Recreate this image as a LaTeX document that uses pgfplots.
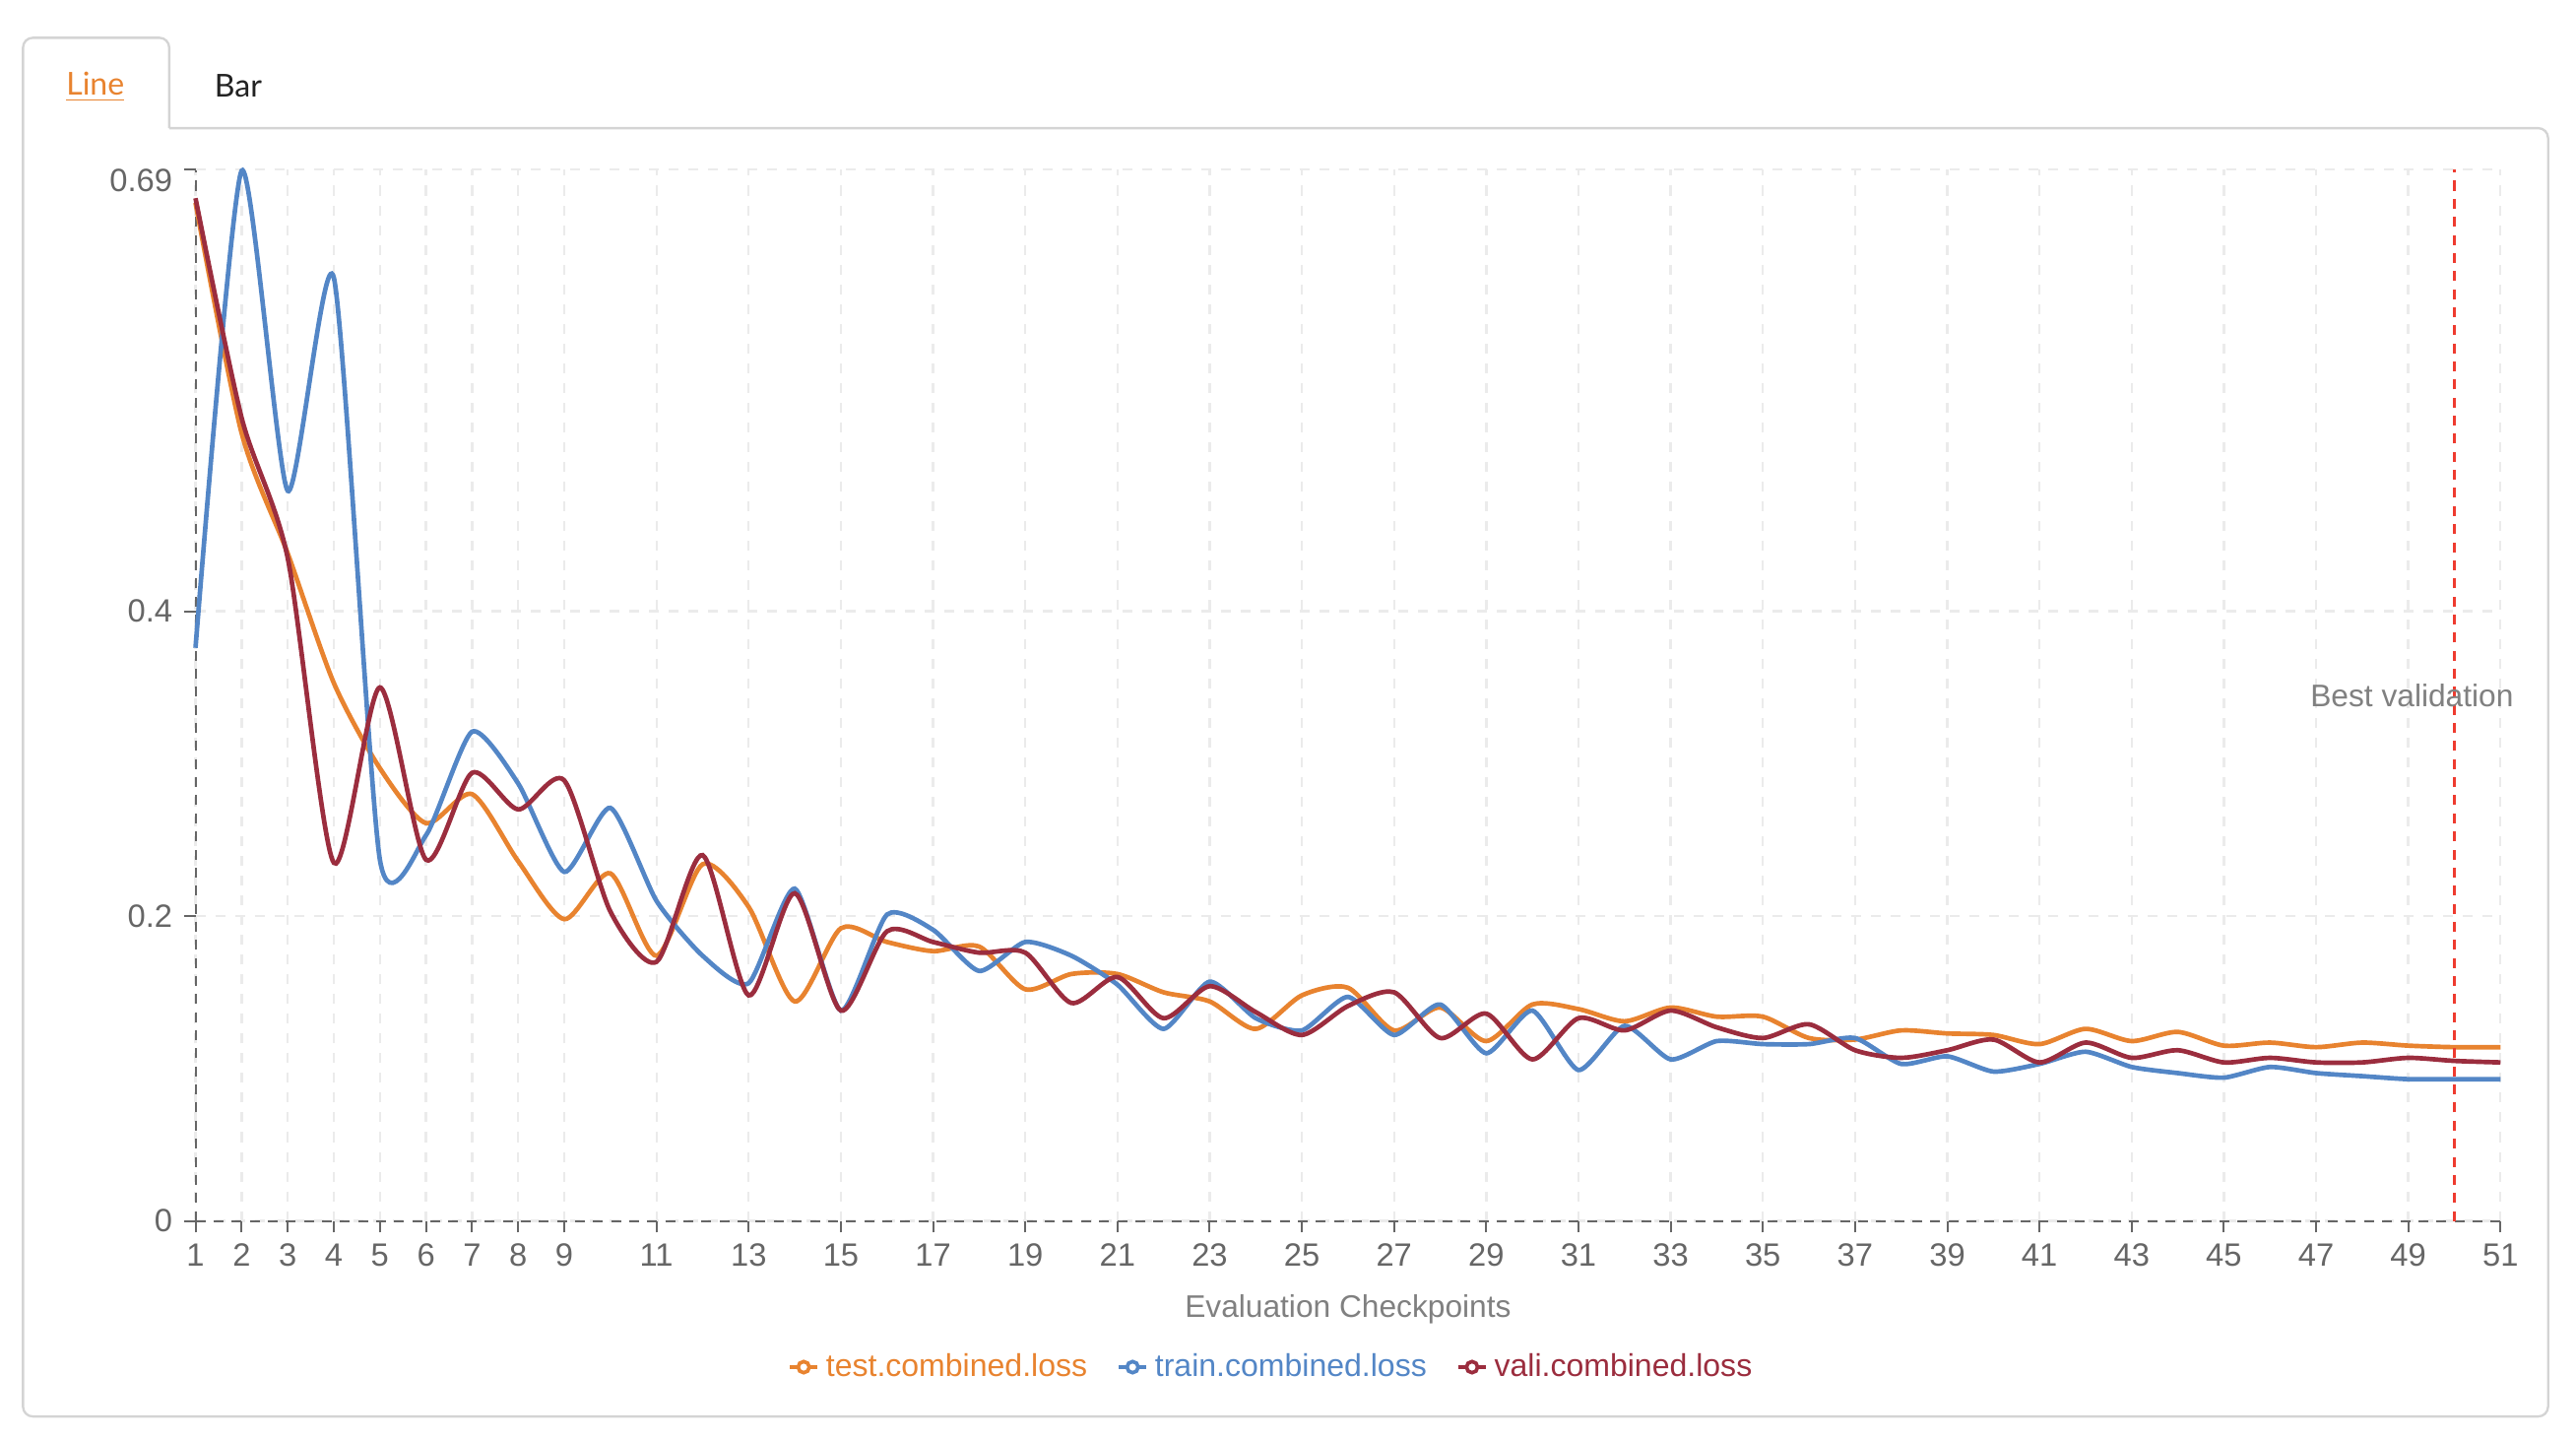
\documentclass[border=0pt]{standalone}
\usepackage{fontspec}
\setmainfont{Liberation Sans}
\newfontfamily\latofont{Lato}
\usepackage{pgfplots}
\pgfplotsset{compat=1.18}
\definecolor{cTest}{HTML}{E8832F}
\definecolor{cTrain}{HTML}{5386C6}
\definecolor{cVali}{HTML}{9B2D3E}
\definecolor{cRef}{HTML}{EE3B2F}
\definecolor{cAxis}{HTML}{666666}
\definecolor{cTick}{HTML}{666666}
\definecolor{cLabel}{HTML}{808080}
\definecolor{cGrid}{HTML}{EBEBEB}
\definecolor{cFrame}{HTML}{D4D4D4}
\definecolor{cBar}{HTML}{222222}

\pgfplotstableread{
x test train vali
1 0.668 0.376 0.671
2 0.517 0.689 0.527
3 0.438 0.479 0.435
4 0.353 0.619 0.235
5 0.297 0.237 0.350
6 0.261 0.253 0.237
7 0.280 0.321 0.294
8 0.236 0.287 0.270
9 0.198 0.229 0.289
10 0.228 0.271 0.203
11 0.174 0.210 0.170
12 0.234 0.174 0.240
13 0.206 0.156 0.148
14 0.144 0.218 0.215
15 0.192 0.138 0.138
16 0.183 0.201 0.190
17 0.177 0.191 0.183
18 0.180 0.164 0.176
19 0.152 0.183 0.176
20 0.162 0.174 0.143
21 0.162 0.155 0.160
22 0.150 0.126 0.133
23 0.144 0.157 0.154
24 0.126 0.133 0.137
25 0.148 0.125 0.122
26 0.153 0.147 0.141
27 0.125 0.122 0.150
28 0.140 0.142 0.120
29 0.118 0.110 0.136
30 0.142 0.138 0.106
31 0.139 0.099 0.133
32 0.131 0.128 0.125
33 0.140 0.106 0.138
34 0.134 0.118 0.127
35 0.134 0.116 0.120
36 0.120 0.116 0.129
37 0.119 0.120 0.112
38 0.125 0.103 0.107
39 0.123 0.108 0.112
40 0.122 0.098 0.119
41 0.116 0.103 0.104
42 0.126 0.111 0.117
43 0.118 0.101 0.107
44 0.124 0.097 0.112
45 0.115 0.094 0.104
46 0.117 0.101 0.107
47 0.114 0.097 0.104
48 0.117 0.095 0.104
49 0.115 0.093 0.107
50 0.114 0.093 0.105
51 0.114 0.093 0.104
}\losses

\begin{document}
\begin{tikzpicture}
\path[use as bounding box] (0,0) rectangle (784pt,438pt);
% card frame with tab
\draw[cFrame, line width=0.7pt, rounded corners=3pt]
  (51.5pt,399pt) -- (51.5pt,426.5pt) -- (7pt,426.5pt) -- (7pt,7pt)
  -- (775.5pt,7pt) -- (775.5pt,399pt) -- (51.5pt,399pt);
\node[font=\latofont\fontsize{9.6}{11}\selectfont, text=cTest] at (29pt,411.5pt) {\underline{Line}};
\node[font=\latofont\fontsize{9.6}{11}\selectfont, text=cBar] at (72.5pt,412pt) {Bar};

\begin{axis}[
  at={(59.5pt,66.5pt)}, anchor=south west,
  scale only axis, width=701.5pt, height=320pt,
  xmin=1, xmax=51, ymin=0, ymax=0.69,
  clip=false,
  axis lines*=left,
  axis line style={draw=cAxis, line width=0.6pt, dash pattern=on 3pt off 2.5pt},
  xtick={1,2,3,4,5,6,7,8,9,11,13,15,17,19,21,23,25,27,29,31,33,35,37,39,41,43,45,47,49,51},
  ytick={0,0.2,0.4},
  yticklabels={0,0.2,0.4},
  extra y ticks={0.69},
  extra y tick labels={0.69},
  extra y tick style={yticklabel style={yshift=-3.5pt}},
  tick align=outside,
  major tick length=3.5pt,
  tick style={draw=cAxis, line width=0.6pt, solid},
  grid=major,
  major grid style={draw=cGrid, line width=0.7pt, dash pattern=on 3pt off 3pt},
  ticklabel style={font=\fontsize{9.8}{11}\selectfont, text=cTick},
  /pgf/number format/assume math mode=true,
  xlabel={Evaluation Checkpoints},
  xlabel style={font=\fontsize{9.5}{11}\selectfont, text=cLabel, at={(axis description cs:0.5,-0.084)}, anchor=center},
  legend style={draw=none, fill=none, at={(0.4676,-0.139)}, anchor=center,
    font=\fontsize{9.6}{11}\selectfont,
    /tikz/every even column/.append style={column sep=7pt}},
  legend columns=3,
  legend cell align=left,
  legend image code/.code={
    \draw[#1, line width=1.1pt] (0pt,0pt) -- (8.5pt,0pt);
    \draw[#1, line width=1.1pt, fill=white] (4.25pt,0pt) circle (1.7pt);
  },
]
\addplot[cTest, line width=1.4pt, smooth, tension=0.45] table[x=x, y=test] {\losses};
\addlegendentry{\textcolor{cTest}{test.combined.loss}}
\addplot[cTrain, line width=1.4pt, smooth, tension=0.38] table[x=x, y=train] {\losses};
\addlegendentry{\textcolor{cTrain}{train.combined.loss}}
\addplot[cVali, line width=1.4pt, smooth, tension=0.45] table[x=x, y=vali] {\losses};
\addlegendentry{\textcolor{cVali}{vali.combined.loss}}
\addplot[cRef, line width=0.7pt, dash pattern=on 3pt off 2.5pt, forget plot] coordinates {(50,0) (50,0.69)};
\node[font=\fontsize{9.5}{11}\selectfont, text=cLabel] at (axis cs:49.08,0.345) {Best validation};
\end{axis}
\end{tikzpicture}
\end{document}
